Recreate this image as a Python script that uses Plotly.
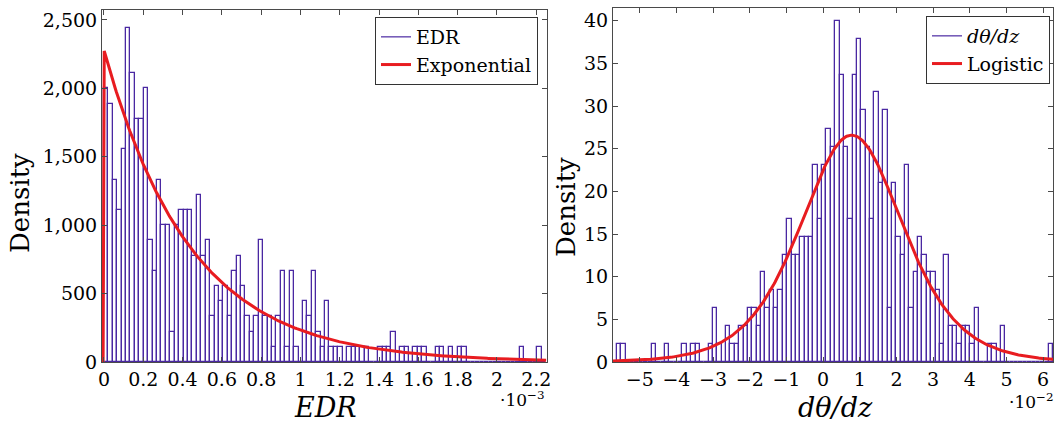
import numpy as np
import plotly.graph_objects as go

# ---------------- data ----------------
# Left panel: EDR histogram (density), 100 equal bins starting at 0
edr_bin_start = 0.0
edr_bin_width = 2.25e-5
edr_density = [
    2000, 1889, 1333, 1111, 1556, 2444, 2111, 1778, 1778, 2000,
    889, 667, 1333, 1000, 1000, 222, 1000, 1111, 1111, 1111,
    778, 1222, 778, 889, 333, 556, 444, 556, 333, 667,
    778, 556, 333, 222, 333, 889, 333, 333, 111, 333,
    667, 111, 667, 111, 0, 444, 333, 667, 222, 111,
    444, 111, 111, 111, 0, 111, 111, 111, 111, 111,
    0, 0, 111, 111, 111, 222, 0, 111, 111, 0,
    111, 111, 111, 0, 0, 111, 111, 0, 111, 0,
    111, 111, 0, 0, 0, 0, 0, 0, 0, 0,
    0, 0, 0, 0, 111, 0, 0, 0, 111, 0,
]
exp_rate = 2280.0          # fitted exponential rate (pdf at 0)

# Right panel: d(theta)/dz histogram (density), 100 equal bins
dtdz_bin_start = -0.0562
dtdz_bin_width = 0.00119
dtdz_density = [
    2.1, 2.1, 0, 0, 0, 0, 0, 0, 2.1, 0,
    0, 2.1, 0, 0, 0, 2.1, 0, 2.1, 2.1, 0,
    0, 2.1, 6.3, 2.1, 0, 4.2, 2.1, 2.1, 4.2, 4.2,
    6.3, 6.3, 4.2, 10.5, 6.3, 8.4, 6.3, 8.4, 12.6, 16.8,
    12.6, 12.6, 14.7, 14.7, 14.7, 23.1, 16.8, 23.1, 27.3, 25.2,
    40.0, 33.7, 25.2, 16.8, 33.7, 37.9, 29.5, 25.2, 16.8, 31.6,
    21.0, 29.5, 6.3, 21.0, 14.7, 12.6, 23.1, 6.3, 10.5, 14.7,
    12.6, 10.5, 10.5, 8.4, 2.1, 12.6, 4.2, 4.2, 2.1, 4.2,
    4.2, 2.1, 6.3, 0, 0, 2.1, 2.1, 0, 4.2, 0,
    0, 0, 0, 0, 0, 0, 0, 0, 0, 2.1,
]
logis_mu = 0.0078          # fitted logistic location
logis_s = 0.0094           # fitted logistic scale

# tick labels
edr_tickvals = [0, 0.2e-3, 0.4e-3, 0.6e-3, 0.8e-3, 1.0e-3, 1.2e-3, 1.4e-3, 1.6e-3, 1.8e-3, 2.0e-3, 2.2e-3]
edr_ticktext = ["0", "0.2", "0.4", "0.6", "0.8", "1", "1.2", "1.4", "1.6", "1.8", "2", "2.2"]
edr_ytickvals = [0, 500, 1000, 1500, 2000, 2500]
dtdz_tickvals = [-0.05, -0.04, -0.03, -0.02, -0.01, 0, 0.01, 0.02, 0.03, 0.04, 0.05, 0.06]
dtdz_ticktext = ["\u22125", "\u22124", "\u22123", "\u22122", "\u22121", "0", "1", "2", "3", "4", "5", "6"]
dtdz_ytickvals = [0, 5, 10, 15, 20, 25, 30, 35, 40]

# ---------------- styling ----------------
W, H = 1057, 424
HIST_COLOR = "rgb(74,40,162)"
FIT_COLOR = "rgb(232,28,32)"
FONT = "DejaVu Serif"
AXIS_COLOR = "#4a4a4a"

edr_xrange = [-1.0e-5, 2.2545e-3]
edr_yrange = [0, 2573]
dtdz_xrange = [-0.0573, 0.0627]
dtdz_yrange = [0, 41.5]

fig = go.Figure()

# left histogram
edr_centers = [edr_bin_start + (i + 0.5) * edr_bin_width for i in range(len(edr_density))]
fig.add_trace(go.Bar(
    x=edr_centers, y=edr_density, width=edr_bin_width,
    marker=dict(color="rgba(255,255,255,0)", line=dict(color=HIST_COLOR, width=1.3)),
    showlegend=False, hoverinfo="skip", xaxis="x", yaxis="y",
))
# exponential fit
xe = np.linspace(edr_xrange[0], edr_bin_start + len(edr_density) * edr_bin_width, 400)
ye = np.where(xe < 0, 0.0, exp_rate * np.exp(-exp_rate * np.clip(xe, 0, None)))
fig.add_trace(go.Scatter(x=xe, y=ye, mode="lines", line=dict(color=FIT_COLOR, width=3),
                         showlegend=False, hoverinfo="skip", xaxis="x", yaxis="y"))
# legend entries (line samples) for left panel
fig.add_trace(go.Scatter(x=[None], y=[None], mode="lines", name="EDR",
                         line=dict(color=HIST_COLOR, width=1.2), legend="legend", xaxis="x", yaxis="y"))
fig.add_trace(go.Scatter(x=[None], y=[None], mode="lines", name="Exponential",
                         line=dict(color=FIT_COLOR, width=3), legend="legend", xaxis="x", yaxis="y"))

# right histogram
dtdz_centers = [dtdz_bin_start + (i + 0.5) * dtdz_bin_width for i in range(len(dtdz_density))]
fig.add_trace(go.Bar(
    x=dtdz_centers, y=dtdz_density, width=dtdz_bin_width,
    marker=dict(color="rgba(255,255,255,0)", line=dict(color=HIST_COLOR, width=1.3)),
    showlegend=False, hoverinfo="skip", xaxis="x2", yaxis="y2",
))
# logistic fit
xl = np.linspace(dtdz_xrange[0], dtdz_xrange[1], 400)
zl = (xl - logis_mu) / logis_s
yl = np.exp(-zl) / (logis_s * (1 + np.exp(-zl)) ** 2)
fig.add_trace(go.Scatter(x=xl, y=yl, mode="lines", line=dict(color=FIT_COLOR, width=3),
                         showlegend=False, hoverinfo="skip", xaxis="x2", yaxis="y2"))
fig.add_trace(go.Scatter(x=[None], y=[None], mode="lines", name="<i>d\u03b8/dz</i>",
                         line=dict(color=HIST_COLOR, width=1.2), legend="legend2", xaxis="x2", yaxis="y2"))
fig.add_trace(go.Scatter(x=[None], y=[None], mode="lines", name="Logistic",
                         line=dict(color=FIT_COLOR, width=3), legend="legend2", xaxis="x2", yaxis="y2"))

axis_common = dict(
    showline=True, linecolor=AXIS_COLOR, linewidth=1, mirror="ticks",
    ticks="inside", ticklen=5, tickcolor=AXIS_COLOR, tickwidth=1,
    showgrid=False, zeroline=False, automargin=False,
    tickfont=dict(family=FONT, size=19, color="black"),
    fixedrange=True,
)

def px_x(p):
    return p / W

def px_y(p):
    return 1 - p / H

def label(text, x, y, size, angle=0, xanchor="center"):
    return dict(text=text, x=px_x(x), y=px_y(y), xref="paper", yref="paper",
                xanchor=xanchor, yanchor="middle", textangle=angle, showarrow=False,
                font=dict(family=FONT, size=size, color="black"))

fig.update_layout(
    width=W, height=H, autosize=False,
    margin=dict(l=0, r=0, t=0, b=0, pad=0),
    paper_bgcolor="white", plot_bgcolor="white",
    barmode="overlay", bargap=0,
    font=dict(family=FONT, color="black"),
    xaxis=dict(axis_common, domain=[px_x(102), px_x(547)], range=edr_xrange,
               tickvals=edr_tickvals, ticktext=edr_ticktext, anchor="y"),
    yaxis=dict(axis_common, domain=[px_y(362), px_y(10)], range=edr_yrange,
               tickvals=edr_ytickvals, tickformat=",d", anchor="x"),
    xaxis2=dict(axis_common, domain=[px_x(613), px_x(1053)], range=dtdz_xrange,
                tickvals=dtdz_tickvals, ticktext=dtdz_ticktext, anchor="y2"),
    yaxis2=dict(axis_common, domain=[px_y(362), px_y(8)], range=dtdz_yrange,
                tickvals=dtdz_ytickvals, anchor="x2"),
    legend=dict(x=px_x(538), y=px_y(17), xanchor="right", yanchor="top",
                bgcolor="white", bordercolor="#333", borderwidth=1,
                font=dict(family=FONT, size=19, color="black"),
                tracegroupgap=0, itemwidth=30),
    legend2=dict(x=px_x(1050), y=px_y(16), xanchor="right", yanchor="top",
                 bgcolor="white", bordercolor="#333", borderwidth=1,
                 font=dict(family=FONT, size=19, color="black"),
                 tracegroupgap=0, itemwidth=30),
    annotations=[
        label("Density", 20, 203, 26, -90),
        label("Density", 566, 207, 26, -90),
        label("<i>EDR</i>", 325, 407, 27),
        label("<i>d\u03b8/dz</i>", 835, 407, 27),
        label("\u00b710<sup>\u22123</sup>", 522, 399, 17),
        label("\u00b710<sup>\u22122</sup>", 1056, 401, 17, xanchor="right"),
    ],
)

fig.write_html("out.html")
